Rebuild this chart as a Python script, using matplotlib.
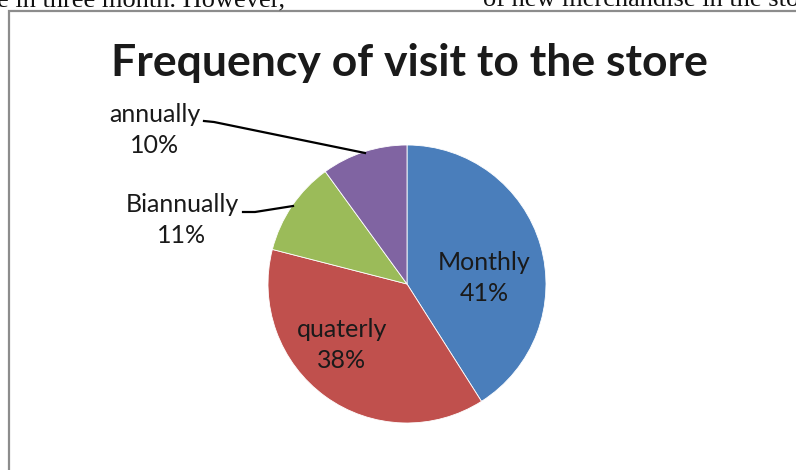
import numpy as np
import matplotlib.pyplot as plt
from matplotlib.patches import Rectangle

# visit frequency shares (percent)
categories = ["Monthly", "quaterly", "Biannually", "annually"]
shares = [41, 38, 11, 10]
colors = ["#4A7EBB", "#C0504D", "#9BBB59", "#8064A2"]

W, H = 796, 470
fig = plt.figure(figsize=(W / 100, H / 100), dpi=100)
ax = fig.add_axes([0, 0, 1, 1])

font = "Lato"

cx, cy, r = 407, H - 284, 139
ax.pie(shares, colors=colors, startangle=90, counterclock=False,
       center=(cx, cy), radius=r, frame=True,
       wedgeprops=dict(edgecolor="white", linewidth=0.6))
ax.set_xlim(0, W)
ax.set_ylim(0, H)
ax.set_aspect("equal")
ax.axis("off")

# running page text cut by the top edge
ax.text(-3, H - 6, "e in three month. However,", family="Liberation Serif",
        fontsize=19, va="baseline", ha="left", color="#111111")
ax.text(483, H - 6, "of new merchandise in the store", family="Liberation Serif",
        fontsize=19, va="baseline", ha="left", color="#111111")

# chart frame
ax.add_patch(Rectangle((8.5, -20), 900, H - 11 + 20, fill=False,
                       edgecolor="#8c8c8c", linewidth=1.6))

ax.text(409, H - 63, "Frequency of visit to the store", family=font,
        fontweight="bold", fontsize=32, ha="center", va="center", color="#1a1a1a")

labels = ["%s\n%d%%" % (c, s) for c, s in zip(categories, shares)]
label_pos = [(484, H - 278), (342, H - 345), (182, H - 220), (155, H - 130)]
for lab, (x, y) in zip(labels, label_pos):
    ax.text(x, y, lab, family=font, fontsize=18, ha="center", va="center",
            color="#1a1a1a", linespacing=1.4)

# leader lines for the small outside labels
ax.plot([204, 214, 365], [H - 121, H - 122, H - 153], color="black", lw=1.6)
ax.plot([243, 255, 293], [H - 212, H - 212, H - 206], color="black", lw=1.6)

fig.savefig("out.png", dpi=100)
